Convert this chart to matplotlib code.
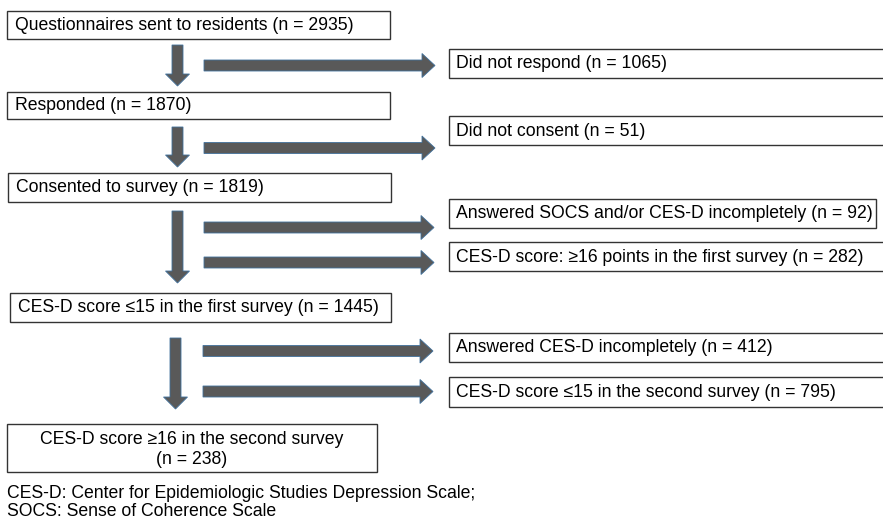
import matplotlib
matplotlib.use("Agg")
import matplotlib.pyplot as plt
from matplotlib.patches import Rectangle, FancyArrow

plt.rcParams['font.family'] = ['Liberation Sans', 'DejaVu Sans']

# ---- data ----
main_labels = ["Questionnaires sent to residents", "Responded", "Consented to survey",
               "CES-D score \u226415 in the first survey",
               "CES-D score \u226516 in the second survey"]
main_n = [2935, 1870, 1819, 1445, 238]
excl_labels = ["Did not respond", "Did not consent",
               "Answered SOCS and/or CES-D incompletely",
               "CES-D score: \u226516 points in the first survey",
               "Answered CES-D incompletely",
               "CES-D score \u226415 in the second survey"]
excl_n = [1065, 51, 92, 282, 412, 795]
footnote = ["CES-D: Center for Epidemiologic Studies Depression Scale;",
            "SOCS: Sense of Coherence Scale"]

# ---- layout (pixel coordinates) ----
main_boxes = [(7, 11, 390, 39), (7, 92, 390, 119), (8, 173, 391, 202),
              (10, 293, 391, 322), (7, 424, 377, 472)]
excl_boxes = [(449, 49, 890, 78), (449, 116, 890, 145), (449, 199, 876, 228),
              (449, 242, 890, 271), (449, 333, 890, 362), (449, 377, 890, 407)]
down_arrows = [(177.5, 45, 86), (177.5, 127, 167), (177.5, 211, 283), (175.5, 338, 409)]
right_arrows = [(65.5, 204, 435), (148, 204, 435), (227.5, 204, 434),
                (262.5, 204, 434), (351, 203, 433), (391.5, 203, 433)]

FS = 12.7
fill = '#595959'
edge = '#41719C'

fig = plt.figure(figsize=(8.83, 5.2), dpi=100)
ax = fig.add_axes([0, 0, 1, 1])
ax.set_xlim(0, 883)
ax.set_ylim(520, 0)
ax.axis('off')

def box(b):
    x0, y0, x1, y1 = b
    ax.add_patch(Rectangle((x0, y0), x1 - x0, y1 - y0, facecolor='white',
                           edgecolor='#333333', linewidth=1.0, zorder=2))

for i, b in enumerate(main_boxes):
    box(b)
    x0, y0, x1, y1 = b
    if i < len(main_boxes) - 1:
        ax.text(x0 + 8, (y0 + y1) / 2 + 0.5, f"{main_labels[i]} (n = {main_n[i]})",
                fontsize=FS, ha='left', va='center', zorder=3)
    else:
        ax.text((x0 + x1) / 2, (y0 + y1) / 2 + 1.5,
                f"{main_labels[i]}\n(n = {main_n[i]})", fontsize=FS,
                ha='center', va='center', linespacing=1.28, zorder=3)

for i, b in enumerate(excl_boxes):
    box(b)
    x0, y0, x1, y1 = b
    ax.text(x0 + 7, (y0 + y1) / 2 + 0.5, f"{excl_labels[i]} (n = {excl_n[i]})",
            fontsize=FS, ha='left', va='center', zorder=3)

for xc, yt, ytip in down_arrows:
    ax.add_patch(FancyArrow(xc, yt, 0, ytip - yt, width=11, head_width=24,
                            head_length=12, length_includes_head=True,
                            facecolor=fill, edgecolor=edge, linewidth=0.6, zorder=1))

for yc, xs, xtip in right_arrows:
    ax.add_patch(FancyArrow(xs, yc, xtip - xs, 0, width=11, head_width=24,
                            head_length=13, length_includes_head=True,
                            facecolor=fill, edgecolor=edge, linewidth=0.6, zorder=1))

ax.text(7, 493, footnote[0], fontsize=FS, ha='left', va='center')
ax.text(7, 511, footnote[1], fontsize=FS, ha='left', va='center')

fig.savefig("out.png", dpi=100)
